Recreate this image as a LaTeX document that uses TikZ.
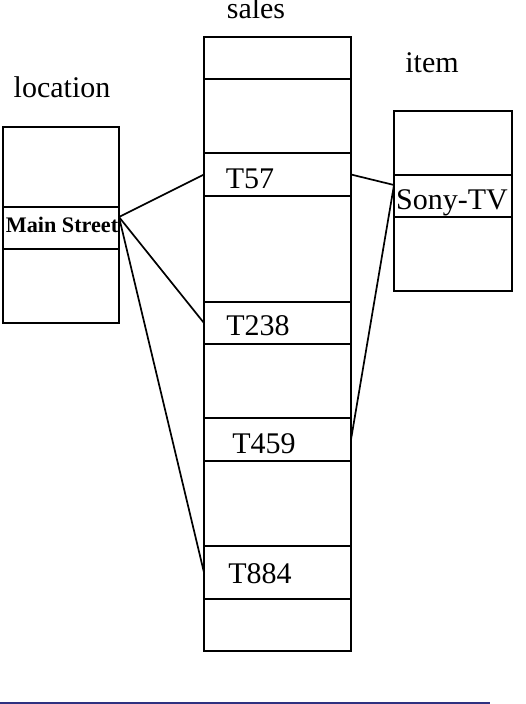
\documentclass[tikz,border=0pt]{standalone}
\usepackage{fontspec}
\setmainfont{Liberation Serif}
\definecolor{rulecol}{RGB}{46,49,128}
\begin{document}
\begin{tikzpicture}[x=1pt,y=-1pt,
  tbl/.style={draw, line width=1.7pt, inner sep=0pt, outer sep=0pt},
  cell/.style={draw, line width=1.7pt, inner sep=0pt, outer sep=0pt},
  lbl/.style={inner sep=0pt, font=\fontsize{30}{32}\selectfont},
  val/.style={inner sep=0pt, anchor=base, font=\fontsize{30}{32}\selectfont},
  bval/.style={inner sep=0pt, anchor=base, font=\fontsize{22.2}{24}\selectfont\bfseries},
  link/.style={line width=1.7pt}]
\useasboundingbox (0,0) rectangle (525,704);
% titles
\node[lbl, anchor=base] (tsales) at (256,19) {sales};
\node[lbl, anchor=base] (tloc) at (62,97.5) {location};
\node[lbl, anchor=base] (titem) at (432,72) {item};
% sales table
\node[tbl, minimum width=147, minimum height=614] (sales) at (277.5,344) {};
\node[cell, minimum width=147, minimum height=42] (s0) at (277.5,58) {};
\node[cell, minimum width=147, minimum height=43] (s57) at (277.5,174.5) {};
\node[cell, minimum width=147, minimum height=42] (s238) at (277.5,323) {};
\node[cell, minimum width=147, minimum height=43] (s459) at (277.5,439.5) {};
\node[cell, minimum width=147, minimum height=53] (s884) at (277.5,572.5) {};
\node[val] (t57) at (250,188) {T57};
\node[val] (t238) at (258,335) {T238};
\node[val] (t459) at (264,453) {T459};
\node[val] (t884) at (260,583) {T884};
% location table
\node[tbl, minimum width=116, minimum height=196] (loc) at (61,225) {};
\node[cell, minimum width=116, minimum height=42] (ms) at (61,228) {};
\node[bval] (tms) at (62,232) {Main Street};
% item table
\node[tbl, minimum width=118, minimum height=180] (item) at (453,201) {};
\node[cell, minimum width=118, minimum height=42] (sony) at (453,196) {};
\node[val] (tsony) at (452,209) {Sony-TV};
% anchor points
\coordinate (msR) at (119,217);
\coordinate (sonyL) at (394,185);
% connectors
\draw[link] (msR) -- (s57.west);
\draw[link] (msR) -- (s238.west);
\draw[link] (msR) -- (s884.west);
\draw[link] (s57.east) -- (sonyL);
\draw[link] (s459.east) -- (sonyL);
% bottom rule
\coordinate (ruleL) at (0,702.5);
\coordinate (ruleR) at (490,702.5);
\draw[rulecol, line width=2pt] (ruleL) -- (ruleR);
\end{tikzpicture}
\end{document}
